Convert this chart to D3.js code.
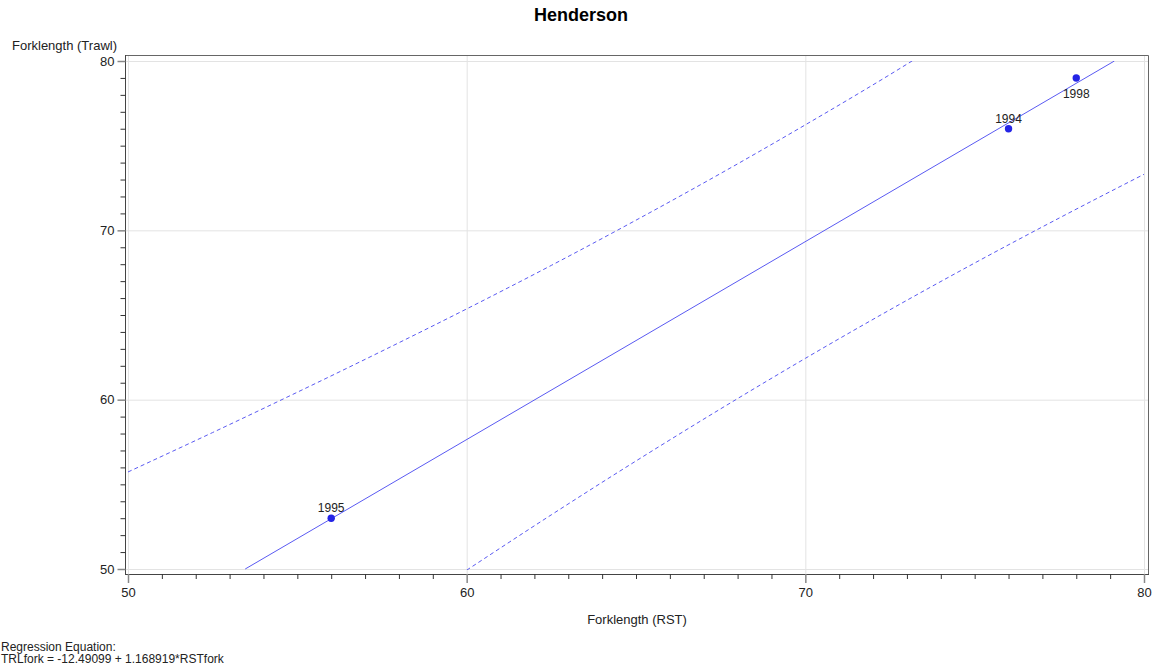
<!DOCTYPE html>
<html>
<head>
<meta charset="utf-8">
<script src="https://cdn.jsdelivr.net/npm/d3@7"></script>
<style>
  html, body { margin: 0; padding: 0; background: #fff; }
  svg { display: block; font-family: "Liberation Sans", Arial, sans-serif; }
</style>
</head>
<body>
<svg id="chart" width="1154" height="666"></svg>
<script>
// Observations: RST fork length vs trawl fork length, by year
const years = ["1995", "1994", "1998"];
const rstFork = [56, 76, 78];
const trawlFork = [53, 76, 79];

// Fitted regression (as printed under the chart)
const intercept = -12.49099;
const slope = 1.168919;

// Prediction limits (upper and lower), RST fork length -> trawl fork length
const upperX = [50, 52.5, 55, 57.5, 60, 62.5, 65, 67.5, 70, 72.5, 73.2];
const upperY = [55.73, 58.06, 60.44, 62.87, 65.36, 67.93, 70.60, 73.36, 76.23, 79.20, 80.06];
const lowerX = [60, 62.5, 65, 67.5, 70, 72.5, 75, 77.5, 80];
const lowerY = [49.93, 53.20, 56.38, 59.46, 62.44, 65.31, 68.07, 70.73, 73.31];

const xMajorTicks = [50, 60, 70, 80];
const yMajorTicks = [50, 60, 70, 80];
const xDomain = [50, 80];
const yDomain = [50, 80];

const svg = d3.select("#chart");
const x = d3.scaleLinear().domain(xDomain).range([128, 1144]);
const y = d3.scaleLinear().domain(yDomain).range([569, 61]);

const frame = { left: 125, top: 55, right: 1148, bottom: 574 };
const ink = "#222";
const markColor = "#2424e6";
const lineColor = "#5a5af2";
const font = "Liberation Sans, Arial, sans-serif";

// Gridlines
const grid = svg.append("g").attr("stroke", "#e3e3e3").attr("stroke-width", 1);
xMajorTicks.forEach(v => grid.append("line")
  .attr("x1", x(v) + 0.5).attr("x2", x(v) + 0.5)
  .attr("y1", frame.top).attr("y2", frame.bottom));
yMajorTicks.forEach(v => grid.append("line")
  .attr("x1", frame.left).attr("x2", frame.right)
  .attr("y1", y(v) + 0.5).attr("y2", y(v) + 0.5));

// Frame (top and right edges)
svg.append("path")
  .attr("d", `M${frame.left},${frame.top + 0.5}H${frame.right + 0.5}V${frame.bottom}`)
  .attr("fill", "none").attr("stroke", "#666").attr("stroke-width", 1);

// Axis lines
svg.append("line").attr("x1", frame.left).attr("x2", frame.right + 1)
  .attr("y1", frame.bottom + 0.5).attr("y2", frame.bottom + 0.5).attr("stroke", "#444");
svg.append("line").attr("x1", frame.left + 0.5).attr("x2", frame.left + 0.5)
  .attr("y1", frame.top).attr("y2", frame.bottom + 1).attr("stroke", "#444");

// Minor ticks every unit
const xMinor = d3.range(xDomain[0], xDomain[1] + 1).filter(v => !xMajorTicks.includes(v));
const yMinor = d3.range(yDomain[0], yDomain[1] + 1).filter(v => !yMajorTicks.includes(v));

const xMinorG = svg.append("g").attr("transform", `translate(0,${frame.bottom})`)
  .call(d3.axisBottom(x).tickValues(xMinor).tickSize(5).tickFormat(""));
xMinorG.select(".domain").remove();
xMinorG.selectAll("line").attr("stroke", "#333");

const yMinorG = svg.append("g").attr("transform", `translate(${frame.left + 0.5},0)`)
  .call(d3.axisLeft(y).tickValues(yMinor).tickSize(5).tickFormat(""));
yMinorG.select(".domain").remove();
yMinorG.selectAll("line").attr("stroke", "#333");

// Major ticks and labels
const xMajorG = svg.append("g").attr("transform", `translate(0,${frame.bottom})`)
  .call(d3.axisBottom(x).tickValues(xMajorTicks).tickSize(9).tickPadding(5).tickFormat(d3.format("d")));
xMajorG.select(".domain").remove();
xMajorG.selectAll("line").attr("stroke", "#888").attr("stroke-width", 1.5);
xMajorG.selectAll("text").attr("fill", ink).attr("font-size", 13).attr("font-family", font);

const yMajorG = svg.append("g").attr("transform", `translate(${frame.left + 0.5},0)`)
  .call(d3.axisLeft(y).tickValues(yMajorTicks).tickSize(8).tickPadding(3).tickFormat(d3.format("d")));
yMajorG.select(".domain").remove();
yMajorG.selectAll("line").attr("stroke", "#888").attr("stroke-width", 1.5);
yMajorG.selectAll("text").attr("fill", ink).attr("font-size", 13).attr("font-family", font);

// Plot-area clip for lines
svg.append("clipPath").attr("id", "plotClip").append("rect")
  .attr("x", x(xDomain[0])).attr("y", y(yDomain[1]))
  .attr("width", x(xDomain[1]) - x(xDomain[0]) + 2)
  .attr("height", y(yDomain[0]) - y(yDomain[1]) + 1);

const plot = svg.append("g").attr("clip-path", "url(#plotClip)");
const lineGen = d3.line().x(d => x(d[0])).y(d => y(d[1]));

// Regression line, limited to where it stays within the trawl range
const fitX0 = (yDomain[0] - intercept) / slope;
const fitX1 = (yDomain[1] - intercept) / slope;
plot.append("path")
  .datum([[fitX0, intercept + slope * fitX0], [fitX1, intercept + slope * fitX1]])
  .attr("d", lineGen).attr("fill", "none").attr("stroke", lineColor).attr("stroke-width", 1);

// Prediction limits
[[upperX, upperY], [lowerX, lowerY]].forEach(([xs, ys]) => {
  plot.append("path")
    .datum(xs.map((v, i) => [v, ys[i]]))
    .attr("d", d3.line().x(d => x(d[0])).y(d => y(d[1])).curve(d3.curveMonotoneX))
    .attr("fill", "none").attr("stroke", lineColor).attr("stroke-width", 1)
    .attr("stroke-dasharray", "4,3");
});

// Observed points with year labels
const labelBelow = new Set(["1998"]);
const pts = svg.append("g");
years.forEach((yr, i) => {
  const cx = x(rstFork[i]), cy = y(trawlFork[i]);
  pts.append("circle").attr("cx", cx).attr("cy", cy).attr("r", 3.7).attr("fill", markColor);
  pts.append("text").attr("x", cx).attr("y", labelBelow.has(yr) ? cy + 20 : cy - 6)
    .attr("text-anchor", "middle").attr("font-size", 12).attr("fill", ink).text(yr);
});

// Titles
svg.append("text").attr("x", 581).attr("y", 21).attr("text-anchor", "middle")
  .attr("font-size", 18).attr("font-weight", "bold").attr("fill", "#000").text("Henderson");
svg.append("text").attr("x", 12).attr("y", 50).attr("font-size", 13).attr("fill", ink)
  .text("Forklength (Trawl)");
svg.append("text").attr("x", 637).attr("y", 624).attr("text-anchor", "middle")
  .attr("font-size", 13).attr("fill", ink).text("Forklength (RST)");

// Regression equation footnote
const note = svg.append("text").attr("font-size", 12).attr("fill", ink);
note.append("tspan").attr("x", 1).attr("y", 651).text("Regression Equation:");
note.append("tspan").attr("x", 1).attr("y", 663)
  .text(`TRLfork = ${intercept} + ${slope}*RSTfork`);
</script>
</body>
</html>
